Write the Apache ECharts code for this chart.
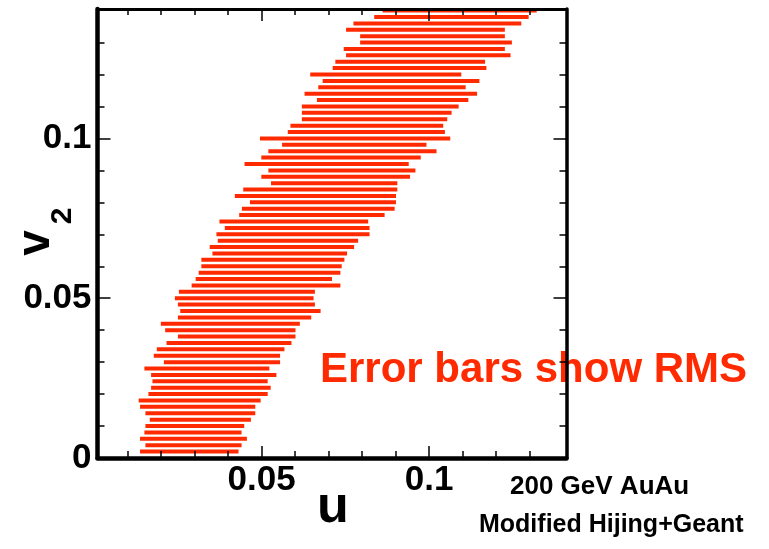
<!DOCTYPE html>
<html>
<head>
<meta charset="utf-8">
<script src="https://cdn.jsdelivr.net/npm/echarts@6/dist/echarts.min.js"></script>
<style>
  html, body { margin: 0; padding: 0; background: #ffffff; }
  #chart { width: 769px; height: 549px; }
</style>
</head>
<body>
<div id="chart"></div>
<script>
// v2 bin positions (top to bottom)
const v2 = [
  0.140,0.138,0.136,0.134,0.132,0.130,0.128,0.126,0.124,0.122,
  0.120,0.118,0.116,0.114,0.112,0.110,0.108,0.106,0.104,0.102,
  0.100,0.098,0.096,0.094,0.092,0.090,0.088,0.086,0.084,0.082,
  0.080,0.078,0.076,0.074,0.072,0.070,0.068,0.066,0.064,0.062,
  0.060,0.058,0.056,0.054,0.052,0.050,0.048,0.046,0.044,0.042,
  0.040,0.038,0.036,0.034,0.032,0.030,0.028,0.026,0.024,0.022,
  0.020,0.018,0.016,0.014,0.012,0.010,0.008,0.006,0.004,0.002
];
// left end of each RMS bar in u
const uLow = [
  0.0861,0.0836,0.0774,0.0752,0.0794,0.0794,0.0745,0.0752,0.0720,0.0712,
  0.0645,0.0682,0.0669,0.0628,0.0665,0.0620,0.0620,0.0620,0.0586,0.0578,
  0.0495,0.0561,0.0520,0.0499,0.0449,0.0520,0.0499,0.0528,0.0445,0.0420,
  0.0465,0.0441,0.0433,0.0374,0.0390,0.0365,0.0369,0.0345,0.0353,0.0320,
  0.0320,0.0312,0.0303,0.0291,0.0253,0.0241,0.0250,0.0257,0.0250,0.0199,
  0.0212,0.0250,0.0216,0.0187,0.0178,0.0208,0.0150,0.0170,0.0174,0.0170,
  0.0162,0.0133,0.0137,0.0153,0.0166,0.0153,0.0150,0.0137,0.0153,0.0137
];
// right end of each RMS bar in u
const uHigh = [
  0.1321,0.1297,0.1275,0.1226,0.1226,0.1247,0.1226,0.1243,0.1167,0.1171,
  0.1096,0.1150,0.1109,0.1143,0.1117,0.1088,0.1067,0.1054,0.1042,0.1047,
  0.1063,0.0992,0.1022,0.0975,0.0939,0.0959,0.0943,0.0905,0.0905,0.0901,
  0.0901,0.0897,0.0867,0.0818,0.0822,0.0822,0.0788,0.0776,0.0755,0.0747,
  0.0739,0.0735,0.0710,0.0735,0.0659,0.0655,0.0659,0.0676,0.0648,0.0614,
  0.0601,0.0601,0.0589,0.0568,0.0555,0.0555,0.0523,0.0544,0.0518,0.0527,
  0.0518,0.0497,0.0481,0.0481,0.0468,0.0448,0.0440,0.0456,0.0440,0.0431
];
// tick positions and labels
const xMajorTicks = [0.05, 0.1];
const xMinorTicks = [0.01,0.02,0.03,0.04,0.06,0.07,0.08,0.09,0.11,0.12,0.13];
const yMajorTicks = [0, 0.05, 0.1];
const yMinorTicks = [0.01,0.02,0.03,0.04,0.06,0.07,0.08,0.09,0.11,0.12,0.13];
const xTickLabels = ['0.05', '0.1'];
const yTickLabels = ['0', '0.05', '0.1'];

const X_MIN = 0.001, X_MAX = 0.141;
const Y_MIN = 0, Y_MAX = 0.1405;
const RED = '#ff2a00';
const FONT = "'Liberation Sans', Arial, Helvetica, sans-serif";

const data = v2.map((v, i) => [uLow[i], uHigh[i], v]);

function fmt(labels, ticks) {
  return function (val) {
    for (let i = 0; i < ticks.length; i++) {
      if (Math.abs(val - ticks[i]) < 1e-9) return labels[i];
    }
    return '';
  };
}

function xAx(position, lineWidth, ticks, len, showLine, labels) {
  return {
    type: 'value', gridIndex: 0, position: position, min: X_MIN, max: X_MAX, z: 5,
    axisLine: { show: showLine, onZero: false, lineStyle: { color: '#000', width: lineWidth } },
    axisTick: { show: true, inside: true, length: len, customValues: ticks, lineStyle: { color: '#000', width: 1.5 } },
    axisLabel: labels ? {
      show: true, customValues: xMajorTicks, formatter: fmt(xTickLabels, xMajorTicks),
      fontFamily: FONT, fontWeight: 'bold', fontSize: 35, color: '#000', margin: 5
    } : { show: false },
    splitLine: { show: false }
  };
}
function yAx(position, lineWidth, ticks, len, showLine, labels) {
  return {
    type: 'value', gridIndex: 0, position: position, min: Y_MIN, max: Y_MAX, z: 5,
    axisLine: { show: showLine, onZero: false, lineStyle: { color: '#000', width: lineWidth } },
    axisTick: { show: true, inside: true, length: len, customValues: ticks, lineStyle: { color: '#000', width: 1.5 } },
    axisLabel: labels ? {
      show: true, customValues: yMajorTicks, formatter: fmt(yTickLabels, yMajorTicks),
      fontFamily: FONT, fontWeight: 'bold', fontSize: 35, color: '#000', margin: 6
    } : { show: false },
    splitLine: { show: false }
  };
}

const chart = echarts.init(document.getElementById('chart'), null, { renderer: 'canvas' });
chart.setOption({
  backgroundColor: '#ffffff',
  animation: false,
  grid: { left: 97.5, top: 9, width: 469, height: 449, containLabel: false },
  xAxis: [
    xAx('bottom', 4.5, xMajorTicks, 12, true, true),
    xAx('bottom', 4.5, xMinorTicks, 7, false, false),
    xAx('top', 3, xMajorTicks, 12, true, false),
    xAx('top', 3, xMinorTicks, 6, false, false)
  ],
  yAxis: [
    yAx('left', 4.5, yMajorTicks, 13, true, true),
    yAx('left', 4.5, yMinorTicks, 7, false, false),
    yAx('right', 3.5, yMajorTicks, 13, true, false),
    yAx('right', 3.5, yMinorTicks, 7, false, false)
  ],
  series: [{
    type: 'custom',
    xAxisIndex: 0, yAxisIndex: 0,
    clip: false,
    encode: { x: [0, 1], y: 2 },
    data: data,
    renderItem: function (params, api) {
      const a = api.coord([api.value(0), api.value(2)]);
      const b = api.coord([api.value(1), api.value(2)]);
      const h = 4;
      return {
        type: 'rect',
        shape: { x: a[0], y: a[1] - h / 2, width: b[0] - a[0], height: h },
        style: { fill: RED }
      };
    }
  }],
  graphic: [
    { type: 'text', z: 0, x: 320, y: 370, style: { text: 'Error bars show RMS', fill: RED, font: 'bold 42px ' + FONT, align: 'left', verticalAlign: 'middle' } },
    { type: 'text', z: 0, x: 510, y: 487, style: { text: '200 GeV AuAu', fill: '#000', font: 'bold 26px ' + FONT, align: 'left', verticalAlign: 'middle' } },
    { type: 'text', z: 0, x: 479, y: 525, style: { text: 'Modified Hijing+Geant', fill: '#000', font: 'bold 25px ' + FONT, align: 'left', verticalAlign: 'middle' } },
    { type: 'text', z: 0, x: 333, y: 508, style: { text: 'u', fill: '#000', font: 'bold 52px ' + FONT, align: 'center', verticalAlign: 'middle' } },
    { type: 'text', z: 0, x: 36, y: 243, rotation: Math.PI / 2, style: { text: 'v', fill: '#000', font: 'bold 46px ' + FONT, align: 'center', verticalAlign: 'middle' } },
    { type: 'text', z: 0, x: 63, y: 216, rotation: Math.PI / 2, style: { text: '2', fill: '#000', font: 'bold 30px ' + FONT, align: 'center', verticalAlign: 'middle' } }
  ]
});
</script>
</body>
</html>
